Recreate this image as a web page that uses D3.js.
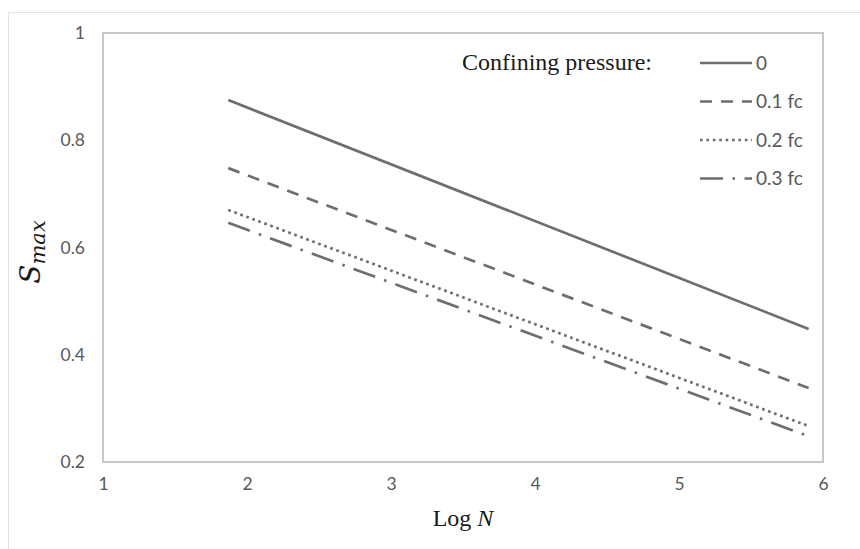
<!DOCTYPE html>
<html>
<head>
  <meta charset="utf-8">
  <script src="https://d3js.org/d3.v7.min.js"></script>
  <style>
    body { margin: 0; background: #fff; }
  </style>
</head>
<body>
  <div id="chart"></div>
  <script>

    // Data
    var seriesNames = ["0", "0.1 fc", "0.2 fc", "0.3 fc"]
    var logN = [1.87, 5.9]
    var sZero = [0.875, 0.448]
    var sTen = [0.748, 0.338]
    var sTwenty = [0.670, 0.267]
    var sThirty = [0.646, 0.248]
    var xTicks = [1, 2, 3, 4, 5, 6]
    var yTicks = [0.2, 0.4, 0.6, 0.8, 1]

    var allSeries = [sZero, sTen, sTwenty, sThirty]
    var dashes = [null, "12 9", "2.7 3.7", "23 9.5 2.5 9.5"]

    var W = 860, H = 549
    var margin = {top: 33, right: 37, bottom: 87, left: 103}
    var width = W - margin.left - margin.right,
        height = H - margin.top - margin.bottom

    var svg = d3.select("#chart")
      .append("svg")
      .attr("width", W)
      .attr("height", H)

    // outer chart frame
    svg.append("rect")
      .attr("x", 8.5).attr("y", 12.5)
      .attr("width", W).attr("height", H)
      .attr("fill", "none")
      .attr("stroke", "#e3e3e3")
      .attr("stroke-width", 1)

    var g = svg.append("g")
      .attr("transform", "translate(" + margin.left + "," + margin.top + ")")

    var x = d3.scaleLinear().domain([1, 6]).range([0, width])
    var y = d3.scaleLinear().domain([0.2, 1]).range([height, 0])

    // plot area box
    g.append("rect")
      .attr("x", 0).attr("y", 0)
      .attr("width", width).attr("height", height)
      .attr("fill", "none")
      .attr("stroke", "#c8c8c8")
      .attr("stroke-width", 2)

    // axes (labels only, no tick marks)
    var xAxis = g.append("g")
      .attr("transform", "translate(0," + height + ")")
      .call(d3.axisBottom(x).tickValues(xTicks).tickSize(0).tickPadding(16).tickFormat(d3.format("d")))
    var yAxis = g.append("g")
      .call(d3.axisLeft(y).tickValues(yTicks).tickSize(0).tickPadding(18).tickFormat(function(d) { return d === 1 ? "1" : d3.format(".1f")(d) }))

    xAxis.select(".domain").remove()
    yAxis.select(".domain").remove()
    g.selectAll(".tick text")
      .attr("fill", "#595959")
      .style("font-family", "Lato, 'Open Sans', sans-serif")
      .style("font-size", "17.5px")

    var line = d3.line()
      .x(function(d) { return x(d[0]) })
      .y(function(d) { return y(d[1]) })

    allSeries.forEach(function(s, i) {
      var pts = logN.map(function(v, j) { return [v, s[j]] })
      g.append("path")
        .datum(pts)
        .attr("d", line)
        .attr("fill", "none")
        .attr("stroke", "#6e6e6e")
        .attr("stroke-width", 2.7)
        .attr("stroke-dasharray", dashes[i])
    })

    // legend
    svg.append("text")
      .attr("x", 462).attr("y", 70)
      .attr("fill", "#1a1a1a")
      .style("font-family", "'Liberation Serif', 'Times New Roman', serif")
      .style("font-size", "24px")
      .text("Confining pressure:")

    seriesNames.forEach(function(name, i) {
      var ly = 63 + i * 38.5
      svg.append("line")
        .attr("x1", 700).attr("x2", 752)
        .attr("y1", ly).attr("y2", ly)
        .attr("stroke", "#6e6e6e")
        .attr("stroke-width", 2.7)
        .attr("stroke-dasharray", dashes[i])
      svg.append("text")
        .attr("x", 756).attr("y", ly)
        .attr("dy", "0.35em")
        .attr("fill", "#595959")
        .style("font-family", "Lato, 'Open Sans', sans-serif")
        .style("font-size", "19px")
        .text(name)
    })

    // axis titles
    var xt = svg.append("text")
      .attr("x", margin.left + width / 2).attr("y", 526)
      .attr("text-anchor", "middle")
      .attr("fill", "#1a1a1a")
      .style("font-family", "'Liberation Serif', 'Times New Roman', serif")
      .style("font-size", "24px")
    xt.append("tspan").text("Log ")
    xt.append("tspan").style("font-style", "italic").text("N")

    var yt = svg.append("text")
      .attr("transform", "translate(40,252) rotate(-90)")
      .attr("text-anchor", "middle")
      .attr("fill", "#1a1a1a")
      .style("font-family", "'DejaVu Serif', 'Liberation Serif', serif")
      .style("font-style", "italic")
    yt.append("tspan").style("font-size", "28px").text("S")
    yt.append("tspan").style("font-size", "21px").attr("dy", 5).text("max")

  </script>
</body>
</html>
